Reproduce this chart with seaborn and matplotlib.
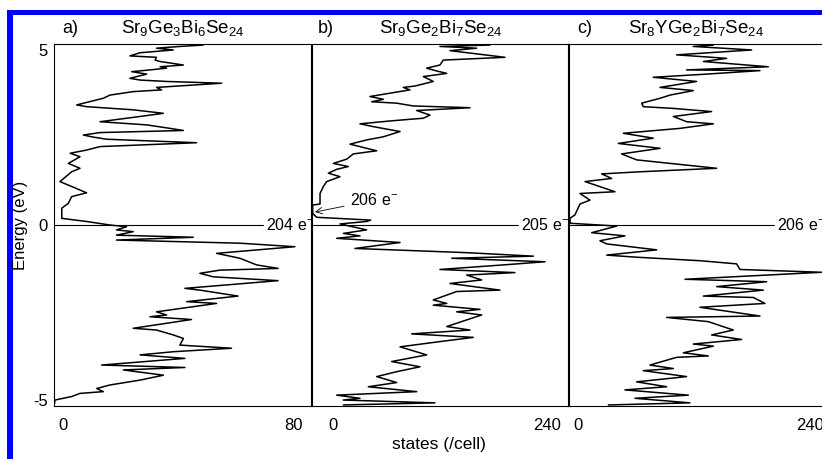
import matplotlib
matplotlib.use("Agg")
import matplotlib.pyplot as plt
from matplotlib.patches import Rectangle
from matplotlib.transforms import ScaledTranslation
import seaborn as sns

# a) Sr9Ge3Bi6Se24
energy_a = [5.14, 5.10, 5.05, 5.00, 4.92, 4.83, 4.79, 4.71, 4.67, 4.57, 4.52, 4.48, 4.43, 4.38, 4.31,
            4.19, 4.14, 4.10, 4.05, 3.93, 3.86, 3.81, 3.71, 3.62, 3.43, 3.38, 3.29, 3.19, 3.10, 2.95,
            2.86, 2.76, 2.70, 2.64, 2.57, 2.51, 2.45, 2.35, 2.24, 2.14, 2.05, 1.95, 1.76, 1.62, 1.52,
            1.24, 1.10, 0.92, 0.81, 0.62, 0.48, 0.19, 0.10, 0.00, -0.05, -0.14, -0.19, -0.29, -0.35,
            -0.43, -0.52, -0.62, -0.81, -0.95, -1.14, -1.24, -1.29, -1.38, -1.48, -1.59, -1.81, -1.86,
            -2.03, -2.19, -2.24, -2.48, -2.57, -2.62, -2.70, -2.95, -3.00, -3.14, -3.24, -3.43, -3.52,
            -3.62, -3.71, -3.81, -4.00, -4.07, -4.14, -4.29, -4.43, -4.57, -4.67, -4.76, -4.81, -4.90,
            -5.00, -5.10]
dos_a = [49.9, 42.1, 34.3, 39.9, 28.8, 25.4, 34.3, 33.8, 35.5, 43.3, 35.5, 37.7, 32.1, 26.0, 31.0,
         25.4, 28.8, 37.7, 56.1, 34.3, 36.0, 26.5, 18.7, 16.5, 7.6, 10.9, 26.5, 36.6, 28.8, 15.4,
         31.0, 38.8, 43.3, 15.4, 9.8, 13.2, 17.6, 47.7, 15.4, 10.9, 5.4, 8.7, 4.8, 8.7, 5.9,
         2.0, 5.9, 10.9, 5.9, 4.8, 2.6, 2.6, 10.9, 18.7, 24.3, 20.9, 26.5, 20.9, 46.6,
         20.9, 62.2, 80.6, 54.4, 62.2, 67.8, 75.0, 55.5, 48.8, 53.3, 75.0, 43.8, 48.8,
         61.6, 44.4, 54.4, 34.3, 37.7, 32.1, 46.0, 26.5, 34.3, 39.9, 43.3, 42.1, 59.4,
         39.9, 28.8, 43.8, 15.9, 43.8, 23.2, 36.6, 28.8, 18.7, 14.3, 16.5, 8.7, 5.9,
         0.3, 0.2]

# b) Sr9Ge2Bi7Se24
energy_b = [5.14, 5.10, 5.05, 4.98, 4.79, 4.71, 4.57, 4.48, 4.40, 4.33, 4.24, 4.10, 3.97, 3.93, 3.86,
            3.67, 3.59, 3.52, 3.48, 3.40, 3.35, 3.27, 3.14, 3.05, 2.98, 2.89, 2.81, 2.67, 2.52, 2.43,
            2.31, 2.19, 2.12, 2.03, 1.88, 1.76, 1.67, 1.59, 1.48, 1.38, 1.24, 1.10, 0.90, 0.60, 0.57,
            0.33, 0.22, 0.14, 0.10, 0.03, -0.14, -0.24, -0.31, -0.38, -0.50, -0.67, -0.79, -0.89, -0.95,
            -1.05, -1.14, -1.27, -1.36, -1.43, -1.57, -1.67, -1.86, -1.90, -2.14, -2.24, -2.29, -2.41,
            -2.48, -2.57, -2.90, -3.00, -3.11, -3.21, -3.33, -3.48, -3.71, -3.90, -4.05, -4.19, -4.33,
            -4.50, -4.62, -4.76, -4.81, -4.86, -4.95, -5.00, -5.08, -5.14]
dos_b = [181.8, 130.7, 168.2, 141.0, 197.1, 134.1, 130.7, 117.1, 127.3, 137.6, 113.7, 123.9, 105.2, 93.3, 100.1,
         59.2, 72.9, 60.9, 86.5, 103.5, 161.4, 106.9, 120.5, 113.7, 83.1, 49.0, 62.6, 89.9, 72.9, 55.8,
         38.8, 55.8, 66.1, 42.2, 35.4, 21.8, 37.1, 25.2, 16.7, 28.6, 15.0, 11.6, 8.2, 8.2, 0.7,
         0.7, 4.8, 60.0, 55.8, 28.6, 55.8, 32.0, 49.0, 25.2, 89.9, 43.9, 158.0, 226.1, 142.7,
         238.0, 195.4, 130.7, 207.3, 158.0, 173.3, 140.9, 192.0, 147.8, 123.9, 137.6, 123.9, 171.6,
         147.8, 173.3, 137.6, 161.4, 101.8, 164.8, 130.7, 89.9, 117.1, 81.4, 110.3, 86.5, 66.1,
         86.5, 57.5, 106.9, 66.1, 25.2, 49.0, 32.0, 125.6, 32.0]

# c) Sr8YGe2Bi7Se24
energy_c = [5.14, 5.10, 5.00, 4.86, 4.76, 4.67, 4.52, 4.43, 4.41, 4.31, 4.22, 4.10, 3.93, 3.84, 3.71,
            3.62, 3.48, 3.38, 3.33, 3.24, 3.10, 2.95, 2.89, 2.76, 2.62, 2.48, 2.33, 2.19, 2.03, 1.86,
            1.71, 1.62, 1.52, 1.46, 1.33, 1.24, 0.95, 0.90, 0.71, 0.60, 0.29, 0.19, 0.05, -0.03, -0.22,
            -0.31, -0.45, -0.54, -0.71, -0.86, -0.92, -1.02, -1.11, -1.27, -1.35, -1.55, -1.62, -1.76,
            -1.86, -2.03, -2.07, -2.24, -2.35, -2.60, -2.64, -2.76, -3.00, -3.14, -3.27, -3.40, -3.46,
            -3.65, -3.74, -3.78, -4.00, -4.10, -4.16, -4.33, -4.48, -4.62, -4.71, -4.86, -4.95, -5.08,
            -5.14]
dos_c = [144.2, 124.3, 182.2, 107.8, 157.4, 134.3, 198.7, 117.7, 190.5, 137.6, 84.6, 127.6, 91.3, 124.3, 101.2,
         91.3, 73.1, 74.7, 104.5, 142.5, 104.5, 117.7, 144.2, 111.1, 54.9, 84.6, 49.9, 91.3, 53.2, 68.1,
         117.7, 147.5, 71.4, 33.4, 43.3, 16.9, 46.6, 11.9, 21.8, 11.9, 6.9, 2.0, 2.0, 48.3, 23.5,
         56.5, 31.7, 38.4, 88.0, 38.4, 68.1, 130.9, 167.3, 170.6, 251.7, 116.1, 197.1, 147.5,
         193.8, 134.3, 183.9, 195.4, 130.9, 190.5, 97.9, 139.2, 164.0, 142.5, 172.3, 124.3, 144.2,
         114.4, 139.2, 107.8, 81.3, 104.5, 74.7, 117.7, 68.1, 97.9, 56.5, 119.4, 66.5, 121.0,
         40.0]

letters = ["a)", "b)", "c)"]
formulas = [r"Sr$_9$Ge$_3$Bi$_6$Se$_{24}$", r"Sr$_9$Ge$_2$Bi$_7$Se$_{24}$", r"Sr$_8$YGe$_2$Bi$_7$Se$_{24}$"]
electron_labels = [r"204 e$^{-}$", r"205 e$^{-}$", r"206 e$^{-}$"]
x_max_ticks = [80, 240, 240]
x_limits = [86.0, 262.5, 255.0]

sns.set_theme(style="white")
plt.rcParams['font.family'] = ['Liberation Sans', 'DejaVu Sans']
plt.rcParams['mathtext.default'] = 'regular'
plt.rcParams['text.color'] = 'black'
plt.rcParams['axes.labelcolor'] = 'black'
plt.rcParams['xtick.color'] = 'black'
plt.rcParams['ytick.color'] = 'black'

W, H = 822, 459
fig = plt.figure(figsize=(W / 100, H / 100), dpi=100)

# panel frames in pixels: left edges, common top/bottom
lefts = [54, 312, 568]
top, bottom, width = 44, 406, 257
zero_shift = [9, 21, 10]   # the "0" labels sit right of the spine
letter_x = [0.031, 0.023, 0.035]
fermi_end = [0.813, 0.80, 0.80]

all_energy = [energy_a, energy_b, energy_c]
all_dos = [dos_a, dos_b, dos_c]

for i in range(3):
    ax = fig.add_axes([lefts[i] / W, 1 - bottom / H, width / W, (bottom - top) / H])
    ax.patch.set_alpha(0)
    sns.lineplot(x=all_dos[i], y=all_energy[i], sort=False, estimator=None,
                 color="black", linewidth=1.1, ax=ax)
    ax.set_xlim(0, x_limits[i])
    ax.set_ylim(-5.17, 5.17)
    ax.set_xticks([0, x_max_ticks[i]])
    ax.set_xticklabels(["0", str(x_max_ticks[i])])
    ax.set_yticks([-5, 0, 5])
    ax.set_yticklabels(["-5", "0", "5"] if i == 0 else [])
    ax.tick_params(axis="x", length=0, pad=9, labelsize=12, colors="black")
    ax.tick_params(axis="y", direction="inout", length=5, width=0.8, pad=2, labelsize=12, colors="black")
    for s in ax.spines.values():
        s.set_color("black")
        s.set_linewidth(0.8)
    ax.set_xlabel("")
    ax.set_ylabel("")

    # move the zero label a bit to the right, as in the original
    lbl = ax.xaxis.get_major_ticks()[0].label1
    lbl.set_transform(lbl.get_transform() + ScaledTranslation(zero_shift[i] / 100, 0, fig.dpi_scale_trans))

    # Fermi level line + electron count
    ax.axhline(0, xmin=0, xmax=fermi_end[i], color="black", linewidth=0.8)
    ax.text(fermi_end[i] + 0.012, 0, electron_labels[i], transform=ax.get_yaxis_transform(),
            ha="left", va="center", fontsize=11.5, color="black", clip_on=False, zorder=5)

    ax.text(letter_x[i], 1.044, letters[i], transform=ax.transAxes, ha="left", va="center",
            fontsize=13, color="black")
    ax.text(0.5, 1.044, formulas[i], transform=ax.transAxes, ha="center", va="center",
            fontsize=13.5, color="black")

    if i == 1:
        ax.annotate(r"206 e$^{-}$", xy=(3, 0.37), xytext=(39, 0.71), ha="left", va="center",
                    fontsize=11.5, color="black",
                    arrowprops=dict(arrowstyle="->", lw=0.6, color="black", shrinkA=2, shrinkB=0))

fig.text(21 / W, 1 - 225 / H, "Energy (eV)", rotation=90, ha="center", va="center",
         fontsize=12, color="black")
fig.text(439 / W, 1 - 445 / H, "states (/cell)", ha="center", va="center",
         fontsize=12.5, color="black")

# blue frame
fig.add_artist(Rectangle((7 / W, 1 - 15 / H), 815 / W, 5 / H, transform=fig.transFigure,
                         color="#0000ff", lw=0))
fig.add_artist(Rectangle((7 / W, 0), 6 / W, (H - 10) / H, transform=fig.transFigure,
                         color="#0000ff", lw=0))

fig.savefig("out.png", dpi=100)
